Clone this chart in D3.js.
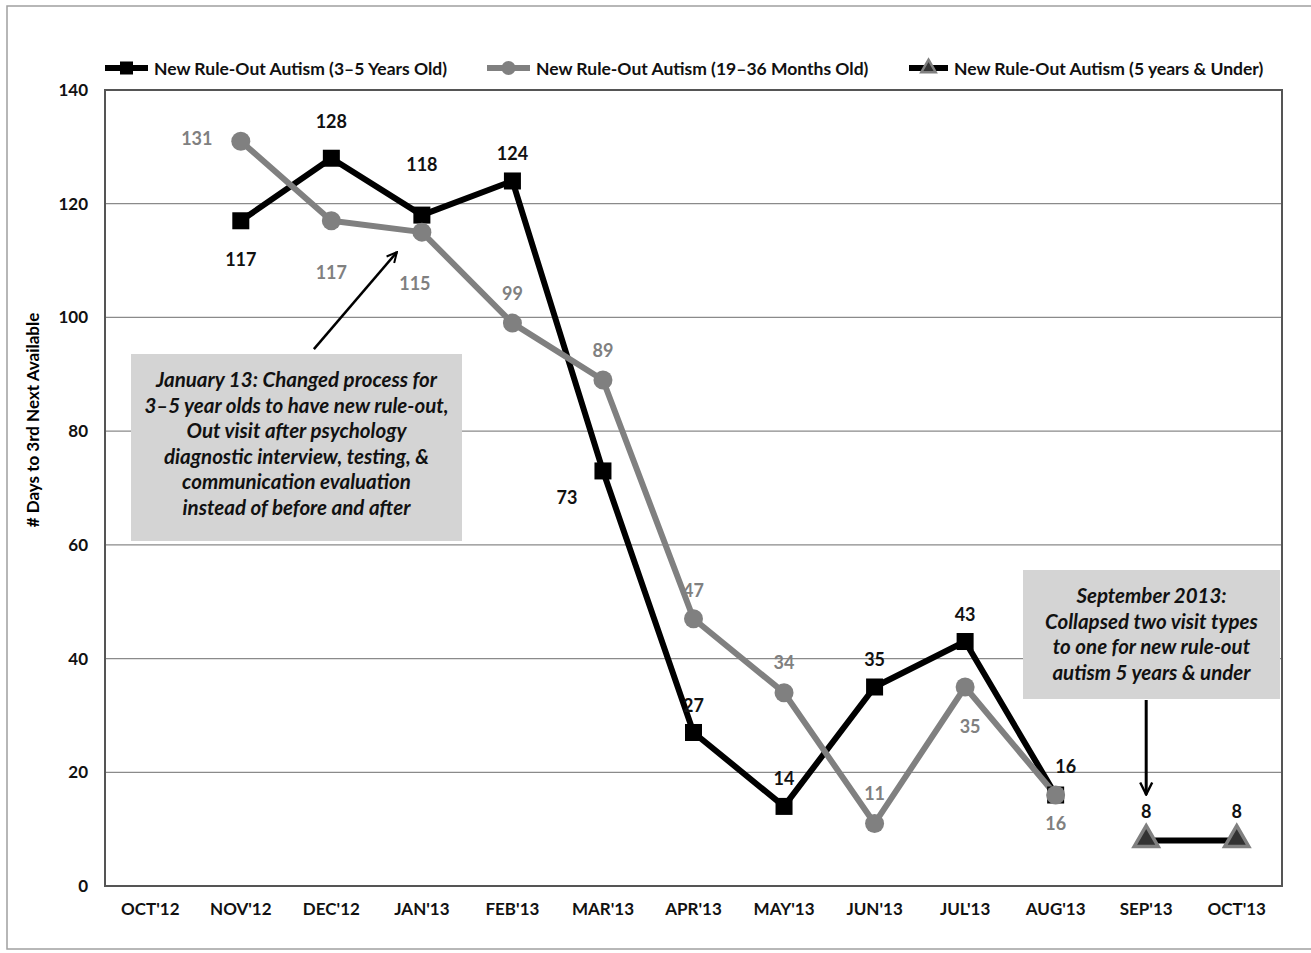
<!DOCTYPE html>
<html>
<head>
<meta charset="utf-8">
<script src="https://cdn.jsdelivr.net/npm/d3@7"></script>
<style>
  body { margin: 0; background: #fff; }
  svg text { font-family: Lato, "Open Sans", sans-serif; }
</style>
</head>
<body>
<svg id="chart" width="1311" height="953"></svg>
<script>
// categories and series
var months = ["OCT'12", "NOV'12", "DEC'12", "JAN'13", "FEB'13", "MAR'13", "APR'13",
              "MAY'13", "JUN'13", "JUL'13", "AUG'13", "SEP'13", "OCT'13"];
var olderMonths = ["NOV'12", "DEC'12", "JAN'13", "FEB'13", "MAR'13", "APR'13", "MAY'13", "JUN'13", "JUL'13", "AUG'13"];
var olderValues = [117, 128, 118, 124, 73, 27, 14, 35, 43, 16];
var youngerMonths = olderMonths;
var youngerValues = [131, 117, 115, 99, 89, 47, 34, 11, 35, 16];
var combinedMonths = ["SEP'13", "OCT'13"];
var combinedValues = [8, 8];
var yTicks = [0, 20, 40, 60, 80, 100, 120, 140];
var seriesNames = ["New Rule-Out Autism (3\u20135 Years Old)",
                   "New Rule-Out Autism (19\u201336 Months Old)",
                   "New Rule-Out Autism (5 years & Under)"];

// label nudges (dx, dy from the point)
var olderNudge = [[0, 38], [0, -37], [0, -51], [0, -28], [-36, 26], [0, -27], [0, -28], [0, -28], [0, -28], [10, -29]];
var youngerNudge = [[-44, -3], [0, 51], [-7, 51], [0, -30], [0, -30], [0, -29], [0, -31], [0, -30], [5, 39], [0, 28]];
var combinedNudge = [[0, -30], [0, -30]];

var margin = { top: 90, right: 29, bottom: 67, left: 105 },
    width = 1311 - margin.left - margin.right,
    height = 953 - margin.top - margin.bottom;

var svg = d3.select("#chart");

// outer frame
svg.append("rect").attr("x", 7).attr("y", 6).attr("width", 1320).attr("height", 943)
    .attr("fill", "none").attr("stroke", "#a0a0a0").attr("stroke-width", 1.5);

var g = svg.append("g").attr("transform", "translate(" + margin.left + "," + margin.top + ")");

var x = d3.scaleBand().domain(months).range([0, width]);
var y = d3.scaleLinear().domain([0, 140]).range([height, 0]);
var cx = function (m) { return x(m) + x.bandwidth() / 2; };

// gridlines
g.selectAll(".grid").data(yTicks.slice(1, -1)).enter().append("line")
    .attr("x1", 0).attr("x2", width)
    .attr("y1", function (d) { return y(d); }).attr("y2", function (d) { return y(d); })
    .attr("stroke", "#8a8a8a").attr("stroke-width", 1.2);

// plot border
g.append("rect").attr("width", width).attr("height", height)
    .attr("fill", "none").attr("stroke", "#555").attr("stroke-width", 2);

// y axis
var yAxis = g.append("g").call(d3.axisLeft(y).tickValues(yTicks).tickSize(0).tickPadding(17));
yAxis.select(".domain").remove();
yAxis.selectAll("text").style("font-size", "17px").style("font-weight", "bold")
    .style("font-family", "Lato, sans-serif").attr("fill", "#111");

// x axis
var xAxis = g.append("g").attr("transform", "translate(0," + height + ")")
    .call(d3.axisBottom(x).tickSize(0).tickPadding(17));
xAxis.select(".domain").remove();
xAxis.selectAll("text").style("font-size", "17px").style("font-weight", "bold")
    .style("font-family", "Lato, sans-serif").attr("fill", "#111");

// y title
svg.append("text")
    .attr("transform", "translate(39,420) rotate(-90)")
    .attr("text-anchor", "middle").style("font-size", "17px").style("font-weight", "bold")
    .text("# Days to 3rd Next Available");

// annotation boxes
function noteBox(x0, y0, w, h, lines, lh) {
    g.append("rect").attr("x", x0).attr("y", y0).attr("width", w).attr("height", h)
        .attr("fill", "#d4d4d4");
    var t = g.append("text").attr("text-anchor", "middle")
        .style("font-size", "20.5px").style("font-weight", "bold").style("font-style", "italic")
        .attr("fill", "#111");
    lines.forEach(function (s, i) {
        t.append("tspan").attr("x", x0 + w / 2).attr("y", y0 + 33 + i * lh).text(s);
    });
}
noteBox(131 - margin.left, 354 - margin.top, 331, 187,
    ["January 13: Changed process for", "3\u20135 year olds to have new rule-out,",
     "Out visit after psychology", "diagnostic interview, testing, &",
     "communication evaluation", "instead of before and after"], 25.6);
noteBox(1023 - margin.left, 570 - margin.top, 257, 129,
    ["September 2013:", "Collapsed two visit types", "to one for new rule-out",
     "autism 5 years & under"], 25.5);

// arrows
svg.append("defs").append("marker").attr("id", "head")
    .attr("viewBox", "0 0 10 10").attr("refX", 9).attr("refY", 5)
    .attr("markerWidth", 5).attr("markerHeight", 5).attr("orient", "auto")
    .append("path").attr("d", "M1,1 L9,5 L1,9").attr("fill", "none")
    .attr("stroke", "#000").attr("stroke-width", 1.6);

g.append("line")
    .attr("x1", cx("JAN'13") - 108).attr("y1", y(115) + 117)
    .attr("x2", cx("JAN'13") - 25).attr("y2", y(115) + 20)
    .attr("stroke", "#000").attr("stroke-width", 2.5).attr("marker-end", "url(#head)");
g.append("line")
    .attr("x1", cx("SEP'13")).attr("y1", 700 - margin.top)
    .attr("x2", cx("SEP'13")).attr("y2", y(8) - 46)
    .attr("stroke", "#000").attr("stroke-width", 3).attr("marker-end", "url(#head)");

var line = d3.line().x(function (d) { return cx(d[0]); }).y(function (d) { return y(d[1]); });
var older = d3.zip(olderMonths, olderValues);
var younger = d3.zip(youngerMonths, youngerValues);
var combined = d3.zip(combinedMonths, combinedValues);

var tri = d3.symbol().type(d3.symbolTriangle).size(250);

// 3-5 years (black squares)
g.append("path").datum(older).attr("d", line).attr("fill", "none")
    .attr("stroke", "#000").attr("stroke-width", 6).attr("stroke-linejoin", "round");
// 19-36 months (gray circles)
g.append("path").datum(younger).attr("d", line).attr("fill", "none")
    .attr("stroke", "#808080").attr("stroke-width", 6).attr("stroke-linejoin", "round");
g.selectAll(".sq").data(older).enter().append("rect")
    .attr("x", function (d) { return cx(d[0]) - 8.5; })
    .attr("y", function (d) { return y(d[1]) - 8.5; })
    .attr("width", 17).attr("height", 17).attr("fill", "#000");
g.selectAll(".dot").data(younger).enter().append("circle")
    .attr("cx", function (d) { return cx(d[0]); })
    .attr("cy", function (d) { return y(d[1]); })
    .attr("r", 9.5).attr("fill", "#808080");
// 5 years & under
g.append("path").datum(combined).attr("d", line).attr("fill", "none")
    .attr("stroke", "#000").attr("stroke-width", 6);
g.selectAll(".tri").data(combined).enter().append("path")
    .attr("d", tri)
    .attr("transform", function (d) { return "translate(" + cx(d[0]) + "," + (y(d[1]) - 1) + ")"; })
    .attr("fill", "#333").attr("stroke", "#808080").attr("stroke-width", 3.5);

// data labels
function labels(data, nudge, color) {
    g.selectAll(null).data(data).enter().append("text")
        .attr("x", function (d, i) { return cx(d[0]) + nudge[i][0]; })
        .attr("y", function (d, i) { return y(d[1]) + nudge[i][1]; })
        .attr("text-anchor", "middle").attr("dominant-baseline", "central")
        .style("font-size", "18px").style("font-weight", "bold")
        .attr("fill", color).text(function (d) { return d[1]; });
}
labels(older, olderNudge, "#111");
labels(younger, youngerNudge, "#808080");
labels(combined, combinedNudge, "#111");

// legend
var legendX = [105, 487, 909];
var legendW = [43, 43, 39];
var leg = svg.append("g").attr("transform", "translate(0,68)");
legendX.forEach(function (lx, i) {
    var col = i === 1 ? "#808080" : "#000";
    leg.append("line").attr("x1", lx).attr("x2", lx + legendW[i])
        .attr("stroke", col).attr("stroke-width", 6);
    var mx = lx + legendW[i] / 2;
    if (i === 0) leg.append("rect").attr("x", mx - 6.5).attr("y", -6.5).attr("width", 13).attr("height", 13).attr("fill", "#000");
    if (i === 1) leg.append("circle").attr("cx", mx).attr("r", 7).attr("fill", "#808080");
    if (i === 2) leg.append("path").attr("d", d3.symbol().type(d3.symbolTriangle).size(90))
        .attr("transform", "translate(" + mx + ",0)").attr("fill", "#333")
        .attr("stroke", "#808080").attr("stroke-width", 2.5);
    leg.append("text").attr("x", lx + legendW[i] + 6).attr("dominant-baseline", "central")
        .style("font-size", "17.5px").style("font-weight", "bold").attr("fill", "#111")
        .text(seriesNames[i]);
});
</script>
</body>
</html>
